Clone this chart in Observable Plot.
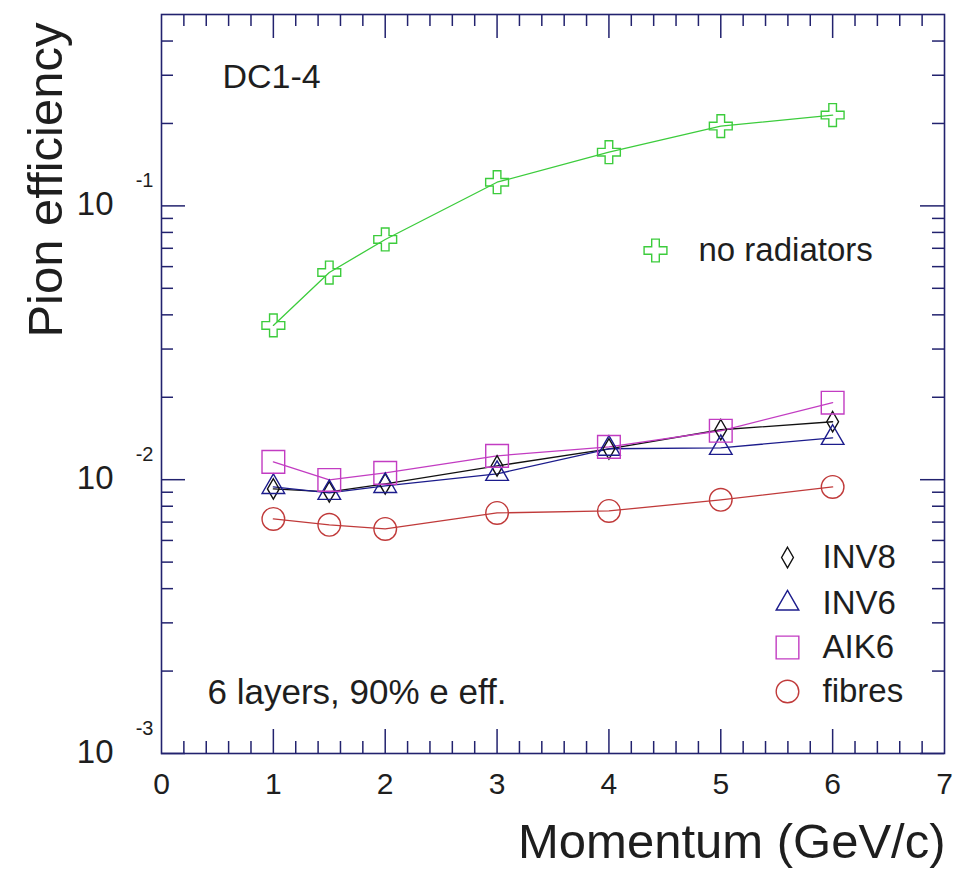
<!DOCTYPE html>
<html><head><meta charset="utf-8">
<script src="https://cdn.jsdelivr.net/npm/d3@7"></script>
<script src="https://cdn.jsdelivr.net/npm/@observablehq/plot@0.6"></script>
<style>
  html, body { margin: 0; padding: 0; background: #fff; }
  #chart svg { display: block; }
</style>
</head><body><div id="chart"></div>
<script>
// ---- data ----
const momentum = [1, 1.5, 2, 3, 4, 5, 6];
const noRadiators = [0.0366, 0.0571, 0.0754, 0.1220, 0.1571, 0.1956, 0.2146];
const inv8   = [0.00925, 0.00902, 0.00965, 0.01123, 0.01297, 0.01522, 0.01628];
const inv6   = [0.00941, 0.00895, 0.00949, 0.01050, 0.01297, 0.01307, 0.01422];
const aik6   = [0.01162, 0.00998, 0.01059, 0.01222, 0.01318, 0.01509, 0.01911];
const fibres = [0.00719, 0.00684, 0.00661, 0.00756, 0.00769, 0.00844, 0.00941];
const seriesNames = ["no radiators", "INV8", "INV6", "AIK6", "fibres"];
const xTickLabels = [0, 1, 2, 3, 4, 5, 6, 7];
const yDecades = [0.1, 0.01, 0.001];
const yExponents = ["-1", "-2", "-3"];
const xTitle = "Momentum (GeV/c)";
const yTitle = "Pion efficiency";
const annotTop = "DC1-4";
const annotBottom = "6 layers, 90% e eff.";

// ---- styles ----
const FONT = "'Liberation Sans', Arial, Helvetica, sans-serif";
const NAVY = "#22226e";
const TEXT = "#1e1e1e";
const style = {
  "no radiators": {color: "#3ccc3c", symbol: "cross", r: 9.6, line: "#3ccc3c"},
  "INV8":   {color: "#111111", symbol: "diamond", r: 6.2, line: "#111111"},
  "INV6":   {color: "#1c1c8c", symbol: "triangle", r: 8.4, line: "#1c1c8c"},
  "AIK6":   {color: "#c23cc2", symbol: "square", r: 12.8, line: "#c23cc2"},
  "fibres": {color: "#c03a3a", symbol: "circle", r: 11.3, line: "#c03a3a"}
};
const seriesValues = [noRadiators, inv8, inv6, aik6, fibres];
const rows = seriesNames.map((name, i) =>
  momentum.map((m, j) => ({series: name, x: m, y: seriesValues[i][j]})));

// ---- layout ----
const W = 969, H = 874;
const mL = 161, mR = 25, mT = 14, mB = 121;
const pw = W - mL - mR, ph = H - mT - mB;
const MAJ = 24, MIN = 12;

const xMinor = d3.range(1, 35).map(i => i / 5).filter(v => Math.abs(v - Math.round(v)) > 1e-9);
const xMajor = d3.range(1, 7);
const yMinor = [];
for (const e of [-3, -2, -1]) for (let k = 2; k <= 9; k++) {
  const v = k * Math.pow(10, e);
  if (v < 0.5) yMinor.push(v);
}

const marks = [];
// ticks (inward, on all four sides)
const tickStyle = {stroke: NAVY, strokeWidth: 1.5};
marks.push(Plot.ruleX(xMinor, {x: d => d, insetTop: ph - MIN, ...tickStyle}));
marks.push(Plot.ruleX(xMajor, {x: d => d, insetTop: ph - MAJ, ...tickStyle}));
marks.push(Plot.ruleX(xMinor, {x: d => d, insetBottom: ph - MIN, ...tickStyle}));
marks.push(Plot.ruleX(xMajor, {x: d => d, insetBottom: ph - MAJ, ...tickStyle}));
marks.push(Plot.ruleY(yMinor, {y: d => d, insetRight: pw - MIN, ...tickStyle}));
marks.push(Plot.ruleY(yDecades, {y: d => d, insetRight: pw - MAJ, ...tickStyle}));
marks.push(Plot.ruleY(yMinor, {y: d => d, insetLeft: pw - MIN, ...tickStyle}));
marks.push(Plot.ruleY(yDecades, {y: d => d, insetLeft: pw - MAJ, ...tickStyle}));
marks.push(Plot.frame({stroke: NAVY, strokeWidth: 1.6}));

// series lines and markers
rows.forEach((data, i) => {
  const s = style[seriesNames[i]];
  marks.push(Plot.line(data, {x: "x", y: "y", stroke: s.line, strokeWidth: 1.3}));
});
rows.forEach((data, i) => {
  const s = style[seriesNames[i]];
  marks.push(Plot.dot(data, {x: "x", y: "y", symbol: () => s.symbol, r: s.r,
    stroke: s.color, strokeWidth: 1.4, fill: "none"}));
});

// x tick labels
marks.push(Plot.text(xTickLabels, {x: d => d, frameAnchor: "bottom", dy: 31,
  text: d => String(d), fontSize: 30, fill: TEXT, fontFamily: FONT, lineAnchor: "middle"}));
// y tick labels: 10 with superscript exponent
marks.push(Plot.text(yDecades, {y: d => d, frameAnchor: "left", dx: -48, dy: -1,
  text: () => "10", textAnchor: "end", lineAnchor: "middle", fontSize: 33, fill: TEXT, fontFamily: FONT}));
marks.push(Plot.text(yDecades, {y: d => d, frameAnchor: "left", dx: -8, dy: -25,
  text: (d, i) => yExponents[i], textAnchor: "end", lineAnchor: "middle", fontSize: 20, fill: TEXT, fontFamily: FONT}));

// axis titles
marks.push(Plot.text([yTitle], {frameAnchor: "top-left", dx: -115, dy: 8, rotate: -90,
  textAnchor: "end", lineAnchor: "middle", fontSize: 49, fill: TEXT, fontFamily: FONT}));
marks.push(Plot.text([xTitle], {frameAnchor: "bottom-right", dx: 1, dy: 89,
  textAnchor: "end", lineAnchor: "middle", fontSize: 49, fill: TEXT, fontFamily: FONT}));

// annotations
marks.push(Plot.text([annotTop], {frameAnchor: "top-left", dx: 61, dy: 63,
  textAnchor: "start", lineAnchor: "middle", fontSize: 34, fill: TEXT, fontFamily: FONT}));
marks.push(Plot.text([annotBottom], {frameAnchor: "top-left", dx: 46, dy: 678,
  textAnchor: "start", lineAnchor: "middle", fontSize: 35, fill: TEXT, fontFamily: FONT}));

// legend
const legendPos = {
  "no radiators": {sx: 494, tx: 537, dy: 236},
  "INV8":   {sx: 626, tx: 661, dy: 543},
  "INV6":   {sx: 626, tx: 661, dy: 589},
  "AIK6":   {sx: 626, tx: 661, dy: 633},
  "fibres": {sx: 626, tx: 661, dy: 677}
};
seriesNames.forEach(name => {
  const s = style[name], p = legendPos[name];
  marks.push(Plot.dot([name], {frameAnchor: "top-left", dx: p.sx, dy: p.dy,
    symbol: () => s.symbol, r: s.r, stroke: s.color, strokeWidth: 1.4, fill: "none"}));
  marks.push(Plot.text([name], {frameAnchor: "top-left", dx: p.tx, dy: p.dy,
    textAnchor: "start", lineAnchor: "middle", fontSize: 33, fill: TEXT, fontFamily: FONT}));
});

const chart = Plot.plot({
  width: W, height: H,
  marginLeft: mL, marginRight: mR, marginTop: mT, marginBottom: mB,
  style: {background: "#fff", fontFamily: FONT},
  x: {domain: [0, 7], axis: null},
  y: {type: "log", domain: [0.001, 0.5], axis: null},
  marks
});
document.getElementById("chart").appendChild(chart);
</script>
</body></html>
